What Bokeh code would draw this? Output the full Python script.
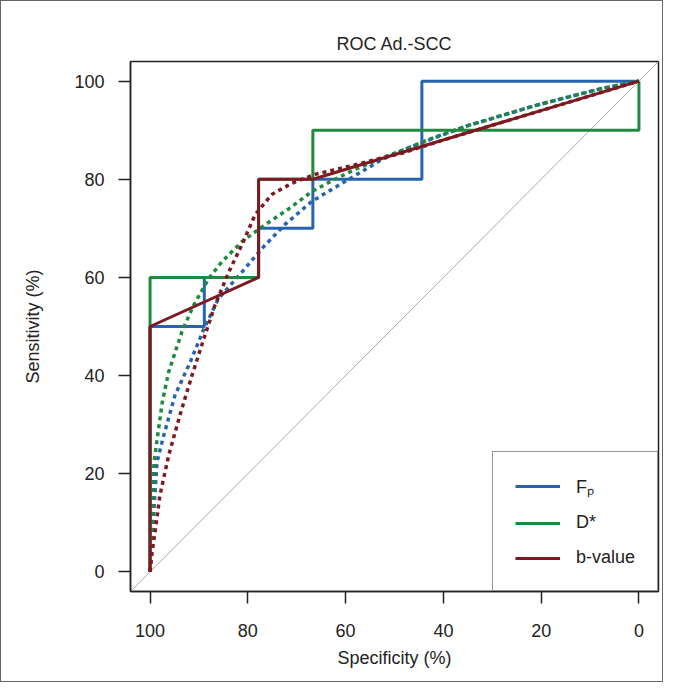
from bokeh.plotting import figure
from bokeh.models import Range1d, FixedTicker, Legend, LegendItem
from bokeh.embed import file_html
from bokeh.resources import INLINE

# ---- data (specificity %, sensitivity %) ----
fp_spec = [100, 100, 88.9, 88.9, 77.8, 77.8, 66.7, 66.7, 44.4, 44.4, 0]
fp_sens = [0, 50, 50, 60, 60, 70, 70, 80, 80, 100, 100]
ds_spec = [100, 100, 77.8, 77.8, 66.7, 66.7, 0, 0]
ds_sens = [0, 60, 60, 80, 80, 90, 90, 100]
bv_spec = [100, 100, 77.8, 77.8, 66.7, 0]
bv_sens = [0, 50, 60, 80, 80, 100]

# smoothed (binormal) curves
fp_s_spec = [100, 99.6, 99.2, 98.6, 97.2, 94.9, 91.8, 89.0, 86.0, 81.2, 77.1, 72.4, 66.9, 60.7,
             52.6, 48.5, 41.7, 34.8, 28.0, 21.3, 14.3, 7.6, 0]
fp_s_sens = [0, 6.0, 12.7, 22.3, 27.8, 36.0, 42.7, 49.5, 55.7, 61.1, 65.9, 70.8, 75.5, 79.2,
             84.0, 85.8, 88.5, 91.0, 93.0, 95.0, 96.8, 98.5, 100]
ds_s_spec = [100, 99.6, 99.2, 97.5, 96.2, 93.5, 91.1, 88.0, 85.3, 81.2, 77.1, 71.6, 66.9, 62.2,
             58.1, 52.6, 48.5, 41.7, 34.8, 28.0, 21.3, 14.3, 7.6, 0]
ds_s_sens = [0, 8.7, 22.3, 34.6, 40.7, 48.9, 54.3, 59.8, 63.2, 67.3, 70.3, 74.0, 77.5, 80.0,
             82.0, 84.3, 85.9, 88.6, 91.0, 93.0, 95.0, 96.8, 98.5, 100]
bv_s_spec = [100, 99.6, 98.9, 98.0, 96.2, 93.9, 91.4, 89.0, 86.7, 83.9, 81.2, 78.5, 75.1, 71.0,
             66.3, 60.7, 54.0, 48.5, 40, 30, 20, 10, 0]
bv_s_sens = [0, 3.9, 8.7, 15.5, 23.7, 31.9, 40.1, 47.5, 54.4, 61.1, 66.7, 72.8, 76.9, 79.2,
             81.0, 82.3, 84.0, 85.3, 88.0, 91.0, 94.0, 97.0, 100]

diag_spec = [104, -4]
diag_sens = [-4, 104]

ticks = [0, 20, 40, 60, 80, 100]
labels = ["Fₚ", "D*", "b-value"]

BLUE = "#2764ad"
GREEN = "#1f8a3f"
RED = "#7d1a21"
FONT = "Liberation Sans"

p = figure(width=661, height=680, output_backend="svg", toolbar_location=None,
           x_range=Range1d(104, -4), y_range=Range1d(-4, 104),
           min_border_left=129, min_border_top=60, min_border_right=4, min_border_bottom=90,
           frame_width=528, frame_height=530)
p.styles = {"border": "1.5px solid #666", "box-sizing": "border-box"}

p.title.text = "ROC Ad.-SCC"
p.title.align = "center"
p.title.text_font = FONT
p.title.text_font_size = "18px"
p.title.text_font_style = "normal"
p.title.text_color = "#222"
p.title.standoff = 15

p.grid.visible = False
p.outline_line_color = "#222"
p.outline_line_width = 1.5

for ax in (p.xaxis[0], p.yaxis[0]):
    ax.ticker = FixedTicker(ticks=ticks)
    ax.minor_tick_line_color = None
    ax.major_tick_in = 0
    ax.major_tick_out = 12
    ax.major_tick_line_color = "#222"
    ax.major_tick_line_width = 1.5
    ax.axis_line_color = "#222"
    ax.axis_line_width = 1.5
    ax.major_label_text_font = FONT
    ax.major_label_text_font_size = "18px"
    ax.major_label_text_color = "#222"
    ax.axis_label_text_font = FONT
    ax.axis_label_text_font_size = "18px"
    ax.axis_label_text_font_style = "normal"
    ax.axis_label_text_color = "#222"

p.xaxis.axis_label = "Specificity (%)"
p.yaxis.axis_label = "Sensitivity (%)"
p.xaxis.major_label_standoff = 20
p.xaxis.axis_label_standoff = 8
p.yaxis.major_label_standoff = 14
p.yaxis.axis_label_standoff = 28
p.yaxis.major_label_orientation = "horizontal"

p.line(diag_spec, diag_sens, line_color="#aaaaaa", line_width=1)

DASH = "4 4"
r_fp = p.line(fp_spec, fp_sens, line_color=BLUE, line_width=3)
p.line(fp_s_spec, fp_s_sens, line_color=BLUE, line_width=3.5, line_dash=DASH)
r_ds = p.line(ds_spec, ds_sens, line_color=GREEN, line_width=3)
p.line(ds_s_spec, ds_s_sens, line_color=GREEN, line_width=3.5, line_dash=DASH)
r_bv = p.line(bv_spec, bv_sens, line_color=RED, line_width=3)
p.line(bv_s_spec, bv_s_sens, line_color=RED, line_width=3.5, line_dash=DASH)

legend = Legend(items=[LegendItem(label=labels[0], renderers=[r_fp]),
                       LegendItem(label=labels[1], renderers=[r_ds]),
                       LegendItem(label=labels[2], renderers=[r_bv])],
                location="bottom_right", margin=0, padding=22, spacing=14,
                glyph_width=45, glyph_height=20, label_standoff=16,
                label_text_font=FONT, label_text_font_size="18px", label_text_color="#222",
                border_line_color="#222", border_line_width=1.5,
                background_fill_color="white", background_fill_alpha=1.0)
p.add_layout(legend, "center")

open("out.html", "w").write(file_html(p, INLINE))
